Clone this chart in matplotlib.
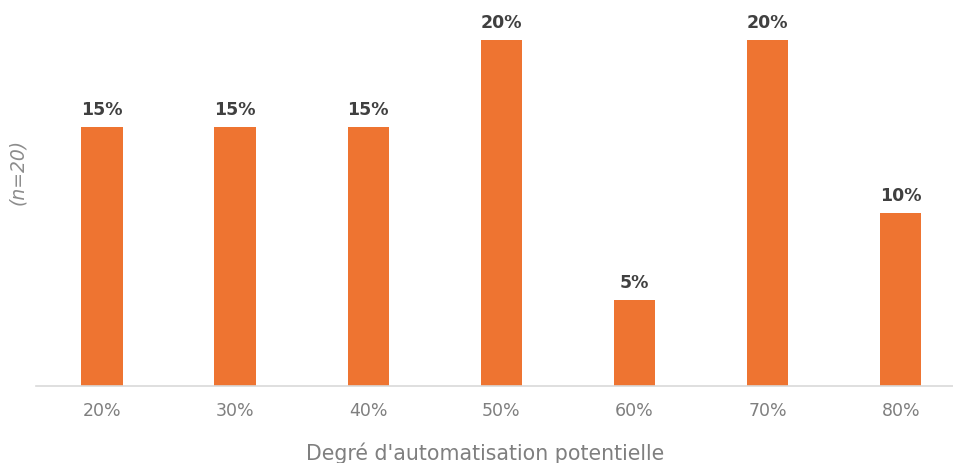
import matplotlib
matplotlib.use("Agg")
import matplotlib.pyplot as plt

categories = ["20%", "30%", "40%", "50%", "60%", "70%", "80%"]
values = [15, 15, 15, 20, 5, 20, 10]
value_labels = ["15%", "15%", "15%", "20%", "5%", "20%", "10%"]

W, H = 954, 464
fig = plt.figure(figsize=(W / 100, H / 100), dpi=100)
ax = fig.add_axes([36 / W, 77 / H, 1 - 36 / W, 1 - 77 / H])

x = list(range(len(categories)))
bars = ax.bar(x, values, width=0.31, color="#EE7431", zorder=2)
for xi, v, lab in zip(x, values, value_labels):
    ax.annotate(lab, (xi, v), xytext=(0, 6.5), textcoords="offset points",
                ha="center", va="bottom", fontsize=12.5, fontweight="bold",
                color="#404040")

ax.set_xlim(-0.495, 6.40)
ax.set_ylim(0, 22.4)
ax.set_xticks(x)
ax.set_xticklabels(categories, fontsize=12.5, color="#7F7F7F")
ax.tick_params(axis="x", length=0, pad=11)
ax.set_yticks([])
for s in ["top", "right", "left"]:
    ax.spines[s].set_visible(False)
ax.spines["bottom"].set_color("#D9D9D9")
ax.spines["bottom"].set_linewidth(1.2)

fig.text(485 / W, 1 - 453 / H, "Degré d'automatisation potentielle",
         ha="center", va="center", fontsize=14.8, color="#7F7F7F")
fig.text(18 / W, 1 - 172 / H, "(n=20)", rotation=90, ha="center", va="center",
         fontsize=13.5, color="#8C8C8C", style="italic")

fig.savefig("out.png", dpi=100)
